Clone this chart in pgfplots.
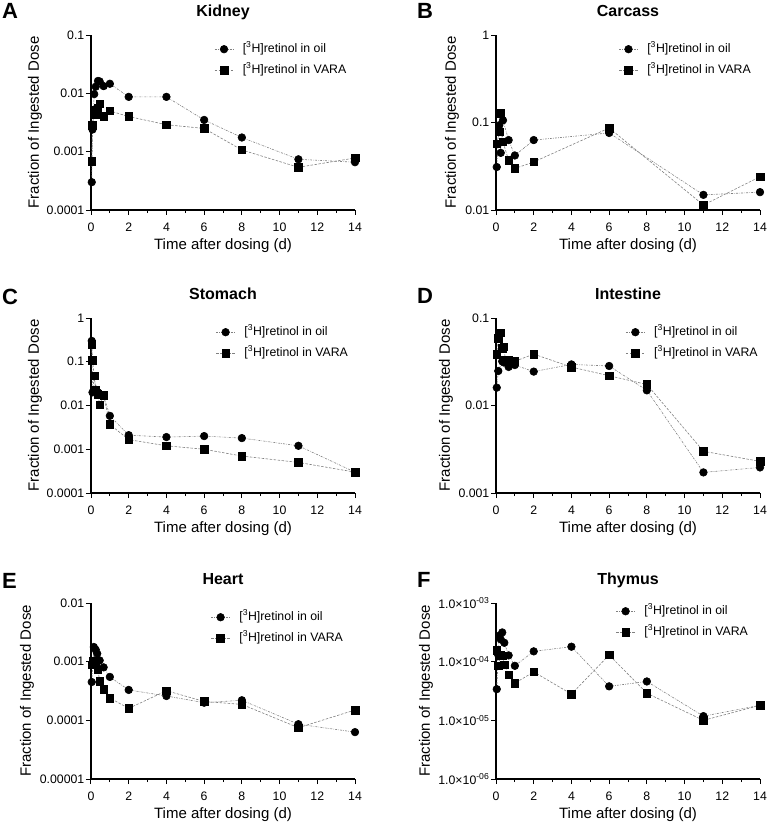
\documentclass[border=0pt]{standalone}
\usepackage{pgfplots}
\pgfplotsset{compat=1.18}
\usepackage{fontspec}
\setmainfont{Liberation Sans}
\newcommand{\fs}[1]{\fontsize{#1}{#1}\selectfont}
\newcommand{\lo}{\fs{12.3}[\textsuperscript{3}H]retinol in oil}
\newcommand{\lv}{\fs{12.3}[\textsuperscript{3}H]retinol in VARA}
\pgfplotsset{
  scale only axis, width=264pt, height=175pt,
  xmin=0, xmax=14,
  axis lines=left, axis line style={-, line width=1.1pt, black},
  xtick={0,2,...,14}, xticklabels={0,2,4,6,8,10,12,14},
  minor xtick={1,3,...,13},
  yminorticks=false,
  tick align=outside, major tick length=5pt, minor tick length=3pt,
  tick style={black, line width=1pt},
  xticklabel style={font=\fs{12.3}, inner sep=0pt, yshift=-7.5pt},
  yticklabel style={font=\fs{12.3}, inner sep=1.5pt},
  clip=false,
  title style={font=\bfseries\fs{16}, at={(0.5,1)}, anchor=base, yshift=13pt},
  every axis x label/.style={at={(0.5,0)}, anchor=base, yshift=-39pt, inner sep=1pt, font=\fs{15}},
  legend style={draw=none, fill=none, anchor=north west, inner sep=0pt, row sep=7pt, column sep=8pt, nodes={inner sep=1pt, text height=9pt, text depth=3pt}},
  legend cell align=left,
  legend image code/.code={\draw[mark repeat=2, mark phase=2, #1] plot coordinates {(0pt,0pt) (9.5pt,0pt) (19pt,0pt)};},
  xlabel={Time after dosing (d)},
  ylabel={Fraction of Ingested Dose},
  ylab/.style={every axis y label/.style={at={(#1,0.5)}, rotate=90, anchor=center, font=\fs{15}}},
  leg/.style 2 args={legend style={at={(#1,#2)}}},
  oil/.style={color=gray, line width=0.6pt, dash pattern=on 2pt off 1.2pt on 0.6pt off 1.2pt, mark=*, mark size=3.8pt, mark options={solid, black, fill=black}},
  vara/.style={color=gray, line width=0.6pt, dash pattern=on 2.5pt off 1.5pt, mark=square*, mark size=3.8pt, mark options={solid, black, fill=black}},
}
\begin{document}
\begin{tikzpicture}
\path[use as bounding box] (0,0) rectangle (769pt,-822pt);
\begin{scope}[every node/.style={font=\bfseries\fs{22}, inner sep=0pt, anchor=base west}]
\node at (2pt,-18pt) {A};
\node at (417pt,-18pt) {B};
\node at (2pt,-304pt) {C};
\node at (417pt,-303pt) {D};
\node at (2pt,-588pt) {E};
\node at (417pt,-587pt) {F};
\end{scope}

% A Kidney
\begin{axis}[ymode=log, ylab=-0.212, leg={0.466}{0.96}, at={(91pt,-210pt)}, anchor=south west,
  title={Kidney}, ymin=1e-4, ymax=0.1, ytick={1e-4,1e-3,1e-2,1e-1}, yticklabels={0.0001,0.001,0.01,0.1}]
\addplot[oil] coordinates {(0.04,0.0003) (0.08,0.0024) (0.17,0.0097) (0.25,0.013) (0.37,0.0163) (0.46,0.016) (0.67,0.0133) (1,0.0146) (2,0.0087) (4,0.0087) (6,0.0035) (8,0.00175) (11,0.00074) (14,0.00066)};
\addplot[vara] coordinates {(0.04,0.00068) (0.08,0.0028) (0.17,0.0051) (0.25,0.0043) (0.37,0.0055) (0.46,0.0066) (0.67,0.004) (1,0.005) (2,0.004) (4,0.0029) (6,0.0025) (8,0.00107) (11,0.00054) (14,0.00078)};
\addlegendentry{\lo}
\addlegendentry{\lv}
\end{axis}

% B Carcass
\begin{axis}[ymode=log, ylab=-0.167, leg={0.464}{0.96}, at={(496pt,-210pt)}, anchor=south west,
  title={Carcass}, ymin=0.01, ymax=1, ytick={0.01,0.1,1}, yticklabels={0.01,0.1,1}]
\addplot[oil] coordinates {(0.04,0.031) (0.17,0.093) (0.25,0.045) (0.37,0.106) (0.67,0.063) (1,0.042) (2,0.063) (6,0.076) (11,0.0149) (14,0.016)};
\addplot[vara] coordinates {(0.04,0.057) (0.17,0.078) (0.25,0.127) (0.37,0.06) (0.67,0.037) (1,0.0298) (2,0.0354) (6,0.0865) (11,0.0114) (14,0.024)};
\addlegendentry{\lo}
\addlegendentry{\lv}
\end{axis}

% C Stomach
\begin{axis}[ymode=log, ylab=-0.212, leg={0.472}{0.96}, at={(91pt,-493pt)}, anchor=south west,
  title={Stomach}, ymin=1e-4, ymax=1, ytick={1e-4,1e-3,1e-2,1e-1,1}, yticklabels={0.0001,0.001,0.01,0.1,1}]
\addplot[oil] coordinates {(0.04,0.3) (0.08,0.02) (0.17,0.047) (0.25,0.023) (0.37,0.02) (0.46,0.018) (0.67,0.017) (1,0.0058) (2,0.0021) (4,0.0019) (6,0.002) (8,0.0018) (11,0.0012) (14,0.0003)};
\addplot[vara] coordinates {(0.04,0.25) (0.08,0.107) (0.17,0.048) (0.25,0.023) (0.37,0.018) (0.46,0.0103) (0.67,0.017) (1,0.0037) (2,0.00166) (4,0.0012) (6,0.001) (8,0.0007) (11,0.0005) (14,0.0003)};
\addlegendentry{\lo}
\addlegendentry{\lv}
\end{axis}

% D Intestine
\begin{axis}[ymode=log, ylab=-0.189, leg={0.49}{0.96}, at={(496pt,-493pt)}, anchor=south west,
  title={Intestine}, ymin=1e-3, ymax=0.1, ytick={1e-3,1e-2,1e-1}, yticklabels={0.001,0.01,0.1}]
\addplot[oil] coordinates {(0.04,0.016) (0.12,0.0248) (0.33,0.032) (0.42,0.031) (0.67,0.0276) (1,0.029) (2,0.0244) (4,0.0295) (6,0.0283) (8,0.0149) (11,0.00172) (14,0.00196)};
\addplot[vara] coordinates {(0.04,0.0385) (0.12,0.059) (0.25,0.068) (0.33,0.045) (0.42,0.047) (0.5,0.033) (0.67,0.033) (1,0.032) (2,0.0387) (4,0.0275) (6,0.0219) (8,0.0174) (11,0.003) (14,0.0023)};
\addlegendentry{\lo}
\addlegendentry{\lv}
\end{axis}

% E Heart
\begin{axis}[ymode=log, height=176pt, ylab=-0.242, leg={0.453}{0.96}, at={(91pt,-779pt)}, anchor=south west,
  title={Heart}, ymin=1e-5, ymax=0.01, ytick={1e-5,1e-4,1e-3,1e-2}, yticklabels={0.00001,0.0001,0.001,0.01}]
\addplot[oil] coordinates {(0.04,0.00045) (0.15,0.00178) (0.25,0.0016) (0.33,0.00137) (0.46,0.00105) (0.67,0.0008) (1,0.00055) (2,0.00033) (4,0.00026) (6,0.0002) (8,0.00022) (11,0.000086) (14,0.000063)};
\addplot[vara] coordinates {(0.04,0.00089) (0.12,0.00104) (0.25,0.00095) (0.37,0.00073) (0.46,0.00046) (0.67,0.00034) (1,0.00024) (2,0.00016) (4,0.00032) (6,0.00021) (8,0.000187) (11,0.000075) (14,0.00015)};
\addlegendentry{\lo}
\addlegendentry{\lv}
\end{axis}

% F Thymus
\begin{axis}[ymode=log, height=176pt, ylab=-0.265, leg={0.453}{0.994}, at={(496pt,-779pt)}, anchor=south west,
  title={Thymus}, ymin=1e-6, ymax=1e-3, ytick={1e-6,1e-5,1e-4,1e-3},
  yticklabels={1.0×10\textsuperscript{-06},1.0×10\textsuperscript{-05},1.0×10\textsuperscript{-04},1.0×10\textsuperscript{-03}}]
\addplot[oil] coordinates {(0.04,3.4e-5) (0.12,1.3e-4) (0.17,2.77e-4) (0.25,2.4e-4) (0.33,3.15e-4) (0.44,2.1e-4) (0.67,1.28e-4) (1,8.5e-5) (2,1.5e-4) (4,1.8e-4) (6,3.8e-5) (8,4.6e-5) (11,1.18e-5) (14,1.8e-5)};
\addplot[vara] coordinates {(0.04,1.55e-4) (0.12,8.5e-5) (0.25,1.28e-4) (0.37,1.25e-4) (0.44,8.8e-5) (0.67,6e-5) (1,4.3e-5) (2,6.7e-5) (4,2.8e-5) (6,1.3e-4) (8,2.9e-5) (11,1e-5) (14,1.8e-5)};
\addlegendentry{\lo}
\addlegendentry{\lv}
\end{axis}
\end{tikzpicture}
\end{document}
